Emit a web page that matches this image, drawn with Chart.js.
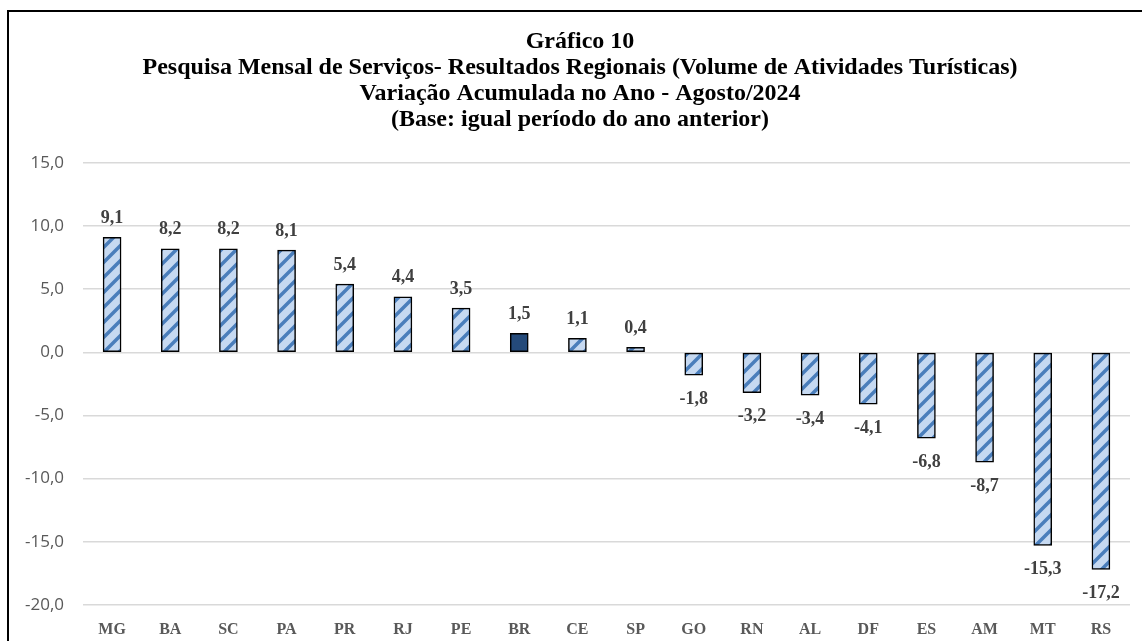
<!DOCTYPE html>
<html>
<head>
<meta charset="utf-8">
<script src="https://cdn.jsdelivr.net/npm/chart.js"></script>
<style>
  html, body { margin: 0; padding: 0; background: #fff; overflow: hidden; }
  #frame {
    position: absolute;
    left: 7px;
    top: 10px;
    width: 1142px;
    height: 650px;
    border: 2px solid #000;
  }
  canvas { display: block; }
</style>
</head>
<body>
<div id="frame">
  <canvas id="chart" width="1142" height="650"></canvas>
</div>
<script>
// estados / regiões (BR = Brasil)
const categories = ["MG", "BA", "SC", "PA", "PR", "RJ", "PE", "BR", "CE", "SP", "GO", "RN", "AL", "DF", "ES", "AM", "MT", "RS"];
const values = [9.1, 8.2, 8.2, 8.1, 5.4, 4.4, 3.5, 1.5, 1.1, 0.4, -1.8, -3.2, -3.4, -4.1, -6.8, -8.7, -15.3, -17.2];
const yTicks = [15, 10, 5, 0, -5, -10, -15, -20];
const titleLines = [
  "Gráfico 10",
  "Pesquisa Mensal de Serviços- Resultados Regionais (Volume de Atividades Turísticas)",
  "Variação Acumulada no Ano - Agosto/2024",
  "(Base: igual período do ano anterior)"
];
const highlight = "BR";

const serif = "'Liberation Serif', 'Times New Roman', serif";
const sans = "'Open Sans', 'Liberation Sans', sans-serif";

// hachurado diagonal (azul claro com listras)
function makeHatch() {
  const s = 15;
  const c = document.createElement("canvas");
  c.width = s; c.height = s;
  const g = c.getContext("2d");
  g.fillStyle = "#c6d9f1";
  g.fillRect(0, 0, s, s);
  g.strokeStyle = "#4a7ebb";
  g.lineWidth = 3.5;
  g.beginPath();
  g.moveTo(-2, s + 2); g.lineTo(s + 2, -2);
  g.moveTo(-2, 2); g.lineTo(2, -2);
  g.moveTo(s - 2, s + 2); g.lineTo(s + 2, s - 2);
  g.stroke();
  return g.createPattern(c, "repeat");
}

const ctx = document.getElementById("chart").getContext("2d");
const hatch = makeHatch();
const fills = categories.map(c => c === highlight ? "#244a7a" : hatch);

const fmt = v => v.toFixed(1).replace(".", ",");

const valueLabels = {
  id: "valueLabels",
  afterDatasetsDraw(chart) {
    const c = chart.ctx;
    const meta = chart.getDatasetMeta(0);
    c.save();
    c.font = "bold 18px " + serif;
    c.fillStyle = "#404040";
    c.textAlign = "center";
    c.textBaseline = "middle";
    meta.data.forEach((bar, i) => {
      const v = values[i];
      const y = v >= 0 ? bar.y - 19 : bar.y + 24;
      c.fillText(fmt(v), bar.x, y);
    });
    c.restore();
  }
};

new Chart(ctx, {
  type: "bar",
  data: {
    labels: categories,
    datasets: [{
      data: values,
      backgroundColor: fills,
      borderColor: "#000",
      borderWidth: 1.5,
      borderSkipped: false,
      barThickness: 18
    }]
  },
  options: {
    responsive: false,
    animation: false,
    layout: { padding: { left: 0, right: 0, top: 0, bottom: 16 } },
    plugins: {
      legend: { display: false },
      tooltip: { enabled: false },
      title: {
        display: true,
        text: titleLines,
        color: "#000",
        font: { family: serif, size: 24, weight: "bold", lineHeight: 1.083 },
        padding: { top: 17, bottom: 30 }
      }
    },
    scales: {
      x: {
        grid: { display: false },
        border: { display: false },
        ticks: {
          color: "#595959",
          padding: 7,
          font: { family: serif, size: 16, weight: "bold" }
        }
      },
      y: {
        min: -20,
        max: 15,
        afterBuildTicks(scale) {
          scale.ticks = yTicks.map(v => ({ value: v }));
        },
        afterFit(scale) { scale.width = 74; },
        grid: { color: "#d9d9d9", lineWidth: 1.5, drawTicks: false },
        border: { display: false },
        ticks: {
          color: "#595959",
          padding: 19,
          font: { family: sans, size: 17 },
          callback: v => fmt(v)
        }
      },
      y2: {
        position: "right",
        afterFit(scale) { scale.width = 21; },
        grid: { display: false },
        border: { display: false },
        ticks: { display: false }
      }
    }
  },
  plugins: [valueLabels]
});
</script>
</body>
</html>
